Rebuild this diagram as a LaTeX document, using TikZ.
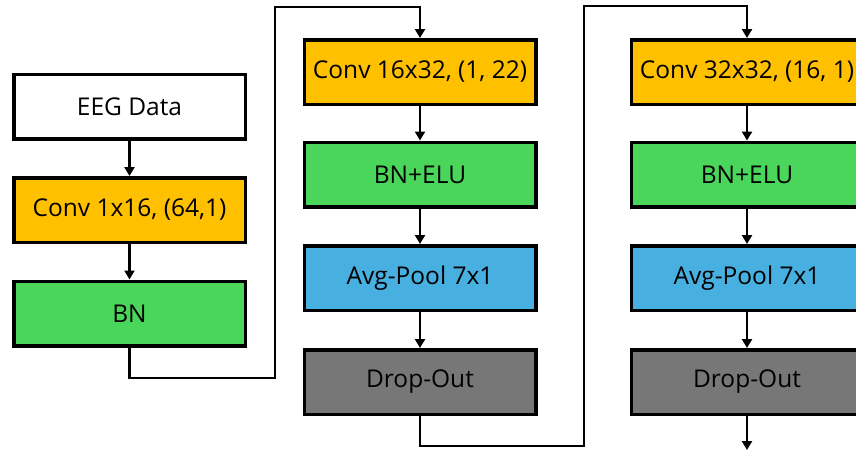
\documentclass[tikz,border=0pt]{standalone}
\usepackage{fontspec}
\setmainfont{Open Sans}
\usetikzlibrary{arrows.meta}
\definecolor{convc}{HTML}{FFC000}
\definecolor{bnc}{HTML}{4AD65A}
\definecolor{poolc}{HTML}{48B0E0}
\definecolor{dropc}{HTML}{777777}
\tikzset{
  blk/.style={draw=black, line width=3.5pt, minimum width=231.5pt, minimum height=64.5pt, inner sep=0pt, font=\fontsize{24.5}{27}\selectfont, text=black},
  conn/.style={line width=2.5pt, -{Triangle[length=9pt,width=10pt]}}
}
\begin{document}
\begin{tikzpicture}[x=1pt,y=-1pt]
\useasboundingbox (0,0) rectangle (856,451);
% column 1
\node[blk, fill=white] (eeg) at (129.5,106.5) {EEG Data};
\node[blk, fill=convc] (conv1) at (129.5,210) {Conv 1x16, (64,1)};
\node[blk, fill=bnc] (bn1) at (129.5,313.5) {BN};
% column 2
\node[blk, fill=convc] (conv2) at (420,72) {Conv 16x32, (1, 22)};
\node[blk, fill=bnc] (bn2) at (420,174.5) {BN+ELU};
\node[blk, fill=poolc] (pool2) at (420,278) {Avg-Pool 7x1};
\node[blk, fill=dropc] (drop2) at (420,382) {Drop-Out};
% column 3
\node[blk, fill=convc] (conv3) at (747,72) {Conv 32x32, (16, 1)};
\node[blk, fill=bnc] (bn3) at (747,174.5) {BN+ELU};
\node[blk, fill=poolc] (pool3) at (747,278) {Avg-Pool 7x1};
\node[blk, fill=dropc] (drop3) at (747,382) {Drop-Out};
% junctions
\coordinate (j1) at (275,378);
\coordinate (j2) at (275,7);
\coordinate (k1) at (584,446);
\coordinate (k2) at (584,6);
\coordinate (fin) at (747,450);
% connectors
\draw[conn] (eeg) -- (conv1);
\draw[conn] (conv1) -- (bn1);
\draw[conn] (bn1.south) |- (j1) -- (j2) -| (conv2.north);
\draw[conn] (conv2) -- (bn2);
\draw[conn] (bn2) -- (pool2);
\draw[conn] (pool2) -- (drop2);
\draw[conn] (drop2.south) |- (k1) -- (k2) -| (conv3.north);
\draw[conn] (conv3) -- (bn3);
\draw[conn] (bn3) -- (pool3);
\draw[conn] (pool3) -- (drop3);
\draw[conn] (drop3) -- (fin);
\end{tikzpicture}
\end{document}
